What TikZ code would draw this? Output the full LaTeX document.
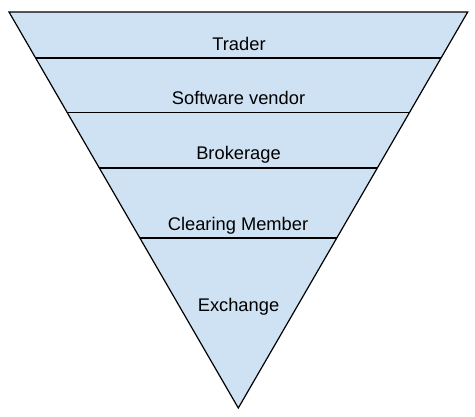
\documentclass[tikz,border=0pt]{standalone}
\usepackage{fontspec}
\setmainfont{Liberation Sans}
\usetikzlibrary{calc}
\definecolor{layerfill}{HTML}{CFE2F3}
\begin{document}
\begin{tikzpicture}[x=1pt,y=-1pt,
  edge/.style={draw=black,line width=1.2pt},
  divider/.style={draw=black,line width=1.1pt},
  label/.style={font=\fontsize{18.3}{21}\selectfont,text=black,inner sep=0pt,anchor=base}]
\useasboundingbox (0,0) rectangle (475,416);
\coordinate (tl) at (9,12);
\coordinate (tr) at (467.7,12);
\coordinate (apex) at (238.3,408);
\fill[layerfill] (tl) -- (tr) -- (apex) -- cycle;
\foreach \n/\t in {a/0.1162,b/0.2538,c/0.3939,d/0.5707}{
  \coordinate (l\n) at ($(tl)!\t!(apex)$);
  \coordinate (r\n) at ($(tr)!\t!(apex)$);
}
\draw[divider] (la) -- (ra);
\draw[divider] (lb) -- (rb);
\draw[divider] (lc) -- (rc);
\draw[divider] (ld) -- (rd);
\draw[edge,line join=miter] (tl) -- (tr) -- (apex) -- cycle;
\node[label] (trader) at (239,50) {Trader};
\node[label] (vendor) at (238.5,104.3) {Software vendor};
\node[label] (broker) at (238.5,159) {Brokerage};
\node[label] (clearing) at (238,230) {Clearing Member};
\node[label] (exchange) at (238.5,311.7) {Exchange};
\end{tikzpicture}
\end{document}
